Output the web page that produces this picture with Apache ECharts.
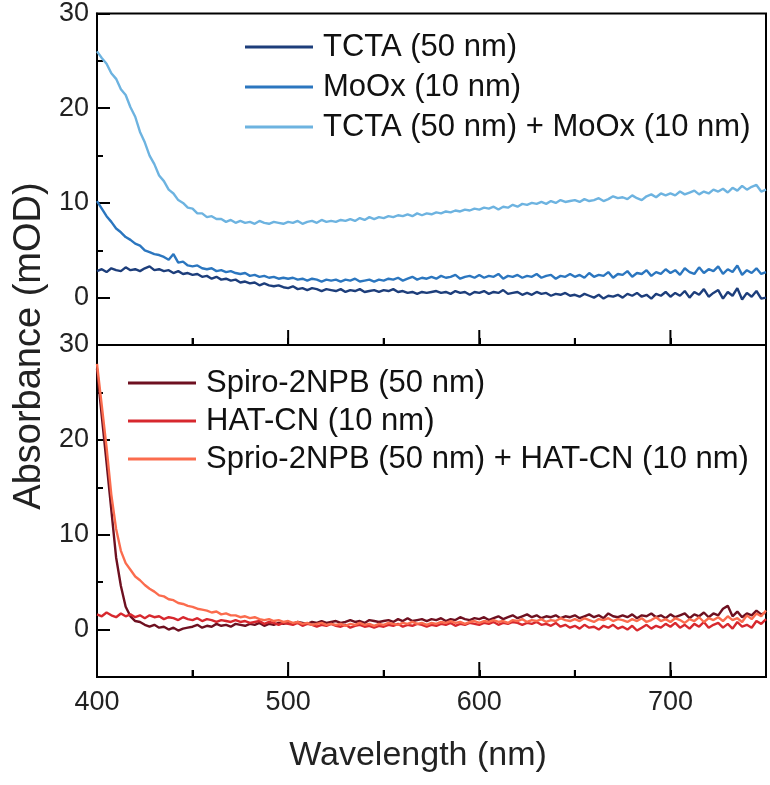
<!DOCTYPE html>
<html>
<head>
<meta charset="utf-8">
<script src="https://cdn.jsdelivr.net/npm/echarts@6/dist/echarts.min.js"></script>
<style>
html,body{margin:0;padding:0;background:#fff;}
#chart{width:770px;height:785px;}
</style>
</head>
<body>
<div id="chart"></div>
<script>
const wavelength = [
400,402.5,405,407.5,410,412.5,415,417.5,420,422.5,
425,427.5,430,432.5,435,437.5,440,442.5,445,447.5,
450,452.5,455,457.5,460,462.5,465,467.5,470,472.5,
475,477.5,480,482.5,485,487.5,490,492.5,495,497.5,
500,502.5,505,507.5,510,512.5,515,517.5,520,522.5,
525,527.5,530,532.5,535,537.5,540,542.5,545,547.5,
550,552.5,555,557.5,560,562.5,565,567.5,570,572.5,
575,577.5,580,582.5,585,587.5,590,592.5,595,597.5,
600,602.5,605,607.5,610,612.5,615,617.5,620,622.5,
625,627.5,630,632.5,635,637.5,640,642.5,645,647.5,
650,652.5,655,657.5,660,662.5,665,667.5,670,672.5,
675,677.5,680,682.5,685,687.5,690,692.5,695,697.5,
700,702.5,705,707.5,710,712.5,715,717.5,720,722.5,
725,727.5,730,732.5,735,737.5,740,742.5,745,747.5,
750];

const tcta = [
2.8,3.0,2.7,3.1,2.9,2.8,3.2,2.9,3.0,2.8,
3.1,3.3,2.9,3.0,2.8,2.9,2.6,2.8,2.5,2.6,
2.4,2.5,2.2,2.3,2.0,2.2,1.9,2.0,1.8,1.9,
1.6,1.7,1.5,1.6,1.3,1.5,1.3,1.2,1.3,1.1,
1.0,1.2,0.9,1.0,0.8,1.0,0.9,0.7,0.9,0.8,
0.7,0.9,0.6,0.8,0.7,0.9,0.6,0.7,0.8,0.6,
0.8,0.7,0.9,0.6,0.7,0.5,0.6,0.4,0.6,0.5,
0.6,0.7,0.5,0.6,0.4,0.7,0.5,0.6,0.3,0.6,
0.5,0.7,0.4,0.6,0.5,0.8,0.4,0.5,0.6,0.3,
0.5,0.3,0.6,0.4,0.5,0.2,0.4,0.3,0.5,0.2,
0.3,0.1,0.4,0.2,0.0,0.3,-0.1,0.2,0.1,0.3,
0.0,0.4,0.2,0.5,0.1,0.3,-0.1,0.4,0.2,0.6,
0.1,0.5,0.2,0.7,0.0,0.6,0.3,0.9,0.1,0.5,
0.8,-0.1,0.6,0.2,1.0,-0.2,0.5,0.1,0.7,-0.1,
0.0];

const moox = [
10.2,9.4,8.6,8.0,7.3,6.9,6.4,6.1,5.7,5.5,
5.0,4.8,4.6,4.5,4.3,4.0,4.6,3.7,3.8,3.4,
3.3,3.4,3.1,3.0,3.1,2.8,2.9,2.7,2.8,2.6,
2.5,2.6,2.3,2.4,2.2,2.3,2.1,2.2,2.0,2.1,
2.0,2.1,1.9,2.0,1.8,2.0,1.9,1.7,1.9,1.8,
1.9,1.7,1.9,1.8,2.0,1.7,1.8,1.9,1.7,1.9,
1.8,2.0,1.9,2.1,1.8,2.0,2.2,1.9,2.1,2.0,
2.2,2.0,2.3,2.1,2.2,2.4,2.0,2.2,2.3,2.1,
2.4,2.1,2.3,2.2,2.5,2.0,2.3,2.2,2.4,2.1,
2.3,2.2,2.5,2.1,2.3,2.4,2.0,2.3,2.2,2.5,
2.2,2.4,2.1,2.6,2.2,2.4,2.3,2.7,2.1,2.5,
2.4,2.8,2.2,2.6,2.5,2.9,2.3,2.7,2.5,3.0,
2.6,2.9,2.4,3.1,2.7,2.5,3.2,2.6,3.0,2.8,
3.3,2.5,3.0,2.7,3.4,2.4,2.9,2.6,3.1,2.5,
2.7];

const tctaMoox = [
26.0,25.3,24.7,23.7,23.1,22.0,21.4,20.1,19.1,17.5,
16.4,15.0,14.1,12.9,12.3,11.4,11.0,10.3,10.0,9.5,
9.4,8.9,8.9,8.5,8.6,8.3,8.3,8.0,8.2,7.9,
8.1,7.9,8.0,7.8,8.1,7.9,7.8,8.0,7.9,7.8,
8.0,7.9,8.1,7.8,8.0,8.1,7.9,8.2,8.0,8.1,
8.0,8.2,8.1,8.3,8.1,8.4,8.2,8.5,8.3,8.5,
8.4,8.6,8.5,8.7,8.6,8.8,8.6,8.9,8.7,8.9,
8.8,9.0,8.9,9.1,9.0,9.2,9.1,9.3,9.2,9.4,
9.3,9.5,9.4,9.6,9.3,9.6,9.5,9.8,9.6,9.9,
9.8,10.0,9.9,10.1,9.9,10.2,10.0,10.3,10.1,10.2,
10.3,10.1,10.4,10.2,10.3,10.5,10.2,10.4,10.7,10.5,
10.6,10.4,10.8,10.5,10.3,10.7,10.9,10.6,11.0,10.8,
11.0,10.8,11.2,10.9,11.1,11.3,10.9,11.2,11.0,11.4,
11.2,11.5,11.1,11.6,11.3,11.8,11.4,11.7,11.9,11.2,
11.4];

const spiro = [
27.5,22.5,17.6,12.6,7.6,4.6,2.4,1.4,0.9,0.8,
0.5,0.3,0.5,0.2,0.3,0.0,0.2,-0.1,0.1,0.2,
0.3,0.5,0.2,0.4,0.3,0.6,0.4,0.5,0.3,0.6,
0.5,0.4,0.6,0.5,0.7,0.4,0.6,0.5,0.7,0.6,
0.7,0.6,0.8,0.7,0.6,0.8,0.7,0.9,0.7,0.8,
0.9,0.7,0.8,1.0,0.8,0.9,0.7,1.0,0.9,0.8,
0.9,1.0,0.8,1.1,0.9,1.2,0.9,1.0,1.1,0.9,
1.1,1.0,1.2,0.9,1.1,1.0,1.3,1.1,1.0,1.2,
1.1,1.3,1.0,1.2,1.4,1.1,1.3,1.5,1.2,1.4,
1.6,1.3,1.5,1.2,1.4,1.3,1.5,1.2,1.4,1.3,
1.5,1.2,1.4,1.6,1.3,1.5,1.2,1.7,1.4,1.3,
1.5,1.3,1.6,1.2,1.5,1.4,1.7,1.3,1.5,1.2,
1.6,1.3,1.5,1.7,1.2,1.6,1.4,1.8,1.3,1.7,
1.5,2.2,2.5,1.4,1.9,1.3,1.7,1.5,2.0,1.6,
1.8];

const hatcn = [
1.6,1.4,1.8,1.5,1.3,1.7,1.4,1.6,1.3,1.5,
1.2,1.5,1.3,1.4,1.1,1.3,1.2,1.0,1.3,1.1,
1.0,1.2,0.9,1.1,1.0,0.8,1.0,0.9,0.8,1.0,
0.8,0.9,0.7,0.8,0.9,0.6,0.8,0.7,0.5,0.7,
0.6,0.5,0.7,0.4,0.6,0.5,0.3,0.5,0.4,0.6,
0.4,0.3,0.5,0.2,0.4,0.5,0.3,0.4,0.2,0.4,
0.3,0.5,0.4,0.6,0.3,0.5,0.4,0.6,0.5,0.3,
0.5,0.4,0.6,0.5,0.7,0.4,0.6,0.5,0.7,0.6,
0.5,0.7,0.6,0.8,0.5,0.7,0.6,0.8,0.7,0.5,
0.7,0.6,0.8,0.5,0.6,0.4,0.7,0.3,0.5,0.2,
0.4,0.1,0.5,0.2,0.3,0.0,0.4,0.2,0.5,0.1,
0.3,0.0,0.4,-0.1,0.2,0.5,0.1,0.4,0.2,0.6,
0.3,0.7,0.2,0.5,0.1,0.6,0.3,0.8,0.2,0.5,
0.7,0.2,0.6,0.1,0.8,0.3,0.5,0.2,0.9,0.6,
1.1];

const spiroHat = [
28.0,23.6,19.2,14.2,10.6,8.3,7.0,6.3,5.6,5.2,
4.7,4.3,4.0,3.6,3.5,3.2,3.1,2.8,2.7,2.5,
2.4,2.2,2.1,2.0,1.8,1.9,1.6,1.7,1.5,1.5,
1.3,1.4,1.2,1.3,1.1,1.0,1.1,0.9,1.0,0.8,
0.9,0.7,0.8,0.6,0.7,0.5,0.6,0.7,0.5,0.6,
0.5,0.6,0.4,0.6,0.5,0.7,0.5,0.6,0.4,0.6,
0.5,0.7,0.6,0.5,0.7,0.6,0.8,0.6,0.7,0.5,
0.7,0.6,0.8,0.7,0.9,0.7,0.8,0.6,0.8,0.9,
0.7,0.9,0.8,1.0,0.8,0.9,0.7,1.0,0.9,1.1,
0.8,1.0,0.9,1.1,0.8,1.0,0.9,1.2,1.0,0.9,
1.1,0.9,1.2,1.0,0.8,1.1,1.0,1.2,0.9,1.1,
1.0,0.8,1.1,0.9,1.2,0.8,1.0,1.3,0.9,1.1,
0.8,1.2,1.0,0.7,1.1,0.9,1.3,0.8,1.2,1.0,
1.3,0.9,1.4,1.0,1.2,0.8,1.5,1.1,1.7,1.4,
2.0];

const topNames = ['TCTA (50 nm)', 'MoOx (10 nm)', 'TCTA (50 nm) + MoOx (10 nm)'];
const bottomNames = ['Spiro-2NPB (50 nm)', 'HAT-CN (10 nm)', 'Sprio-2NPB (50 nm) + HAT-CN (10 nm)'];
const xMajorTicks = [400, 500, 600, 700];
const xMinorTicks = [450, 550, 650];
const yMajorTicks = [0, 10, 20, 30];
const xTitle = 'Wavelength (nm)';
const yTitle = 'Absorbance (mOD)';

const FONT = '"Liberation Sans", Arial, sans-serif';
const pair = (arr) => wavelength.map((w, i) => [w, arr[i]]);

function labelAxisX(gridIndex, withLabels) {
  return {
    type: 'value', gridIndex: gridIndex, min: 400, max: 750, interval: 50, position: 'bottom',
    splitLine: {show: false},
    axisLine: {show: true, onZero: false, lineStyle: {color: '#000', width: 2}},
    axisTick: {show: true, inside: true, length: 7, lineStyle: {color: '#000', width: 2}},
    axisLabel: withLabels ? {
      show: true, fontSize: 27, color: '#222', fontFamily: FONT, margin: 12, showMaxLabel: false,
      formatter: function (v) { return xMajorTicks.indexOf(v) >= 0 ? String(v) : ''; }
    } : {show: false}
  };
}
function labelAxisY(gridIndex) {
  return {
    type: 'value', gridIndex: gridIndex, min: -5, max: 30, interval: 5, position: 'left',
    splitLine: {show: false},
    axisLine: {show: true, onZero: false, lineStyle: {color: '#000', width: 2}},
    axisTick: {show: true, inside: true, length: 6, lineStyle: {color: '#000', width: 2}},
    axisLabel: {
      show: true, fontSize: 27, color: '#222', fontFamily: FONT, margin: 8,
      formatter: function (v) { return yMajorTicks.indexOf(v) >= 0 ? String(v) : ''; }
    }
  };
}
function majorTickAxisY(gridIndex) {
  return {
    type: 'value', gridIndex: gridIndex, min: -5, max: 30, position: 'left',
    splitLine: {show: false},
    axisLine: {show: false, onZero: false},
    axisTick: {show: true, inside: true, length: 13, customValues: yMajorTicks, lineStyle: {color: '#000', width: 2}},
    axisLabel: {show: false}
  };
}

// x-axis tick marks drawn at the tick values through the axis scale
function xTickSeries(xi, yi) {
  return {
    type: 'custom', xAxisIndex: xi, yAxisIndex: yi, silent: true, clip: false, z: 5,
    data: xMajorTicks.concat(xMinorTicks).map(function (v) { return [v, -5]; }),
    renderItem: function (params, api) {
      const v = api.value(0);
      const p = api.coord([v, api.value(1)]);
      const len = xMajorTicks.indexOf(v) >= 0 ? 15 : 7;
      return {
        type: 'line',
        shape: {x1: p[0], y1: p[1], x2: p[0], y2: p[1] - len},
        style: {stroke: '#000', lineWidth: 2}
      };
    }
  };
}

const topColors = ['#1d3e7b', '#2b76bf', '#6db3e0'];
const bottomColors = ['#6e1020', '#d7282e', '#fb6c4e'];

function line(name, data, color, xi, yi) {
  return {
    name: name, type: 'line', xAxisIndex: xi, yAxisIndex: yi, data: pair(data),
    symbol: 'none', lineStyle: {color: color, width: 2.4}, itemStyle: {color: color}
  };
}

const legendText = {fontSize: 31, color: '#111', fontFamily: FONT, lineHeight: 32, padding: [0, 0, 0, 5]};

const option = {
  animation: false,
  grid: [
    {left: 97, right: 4, top: 12, height: 333, show: true, borderColor: '#000', borderWidth: 2},
    {left: 97, right: 4, top: 345, height: 332, show: true, borderColor: '#000', borderWidth: 2}
  ],
  xAxis: [labelAxisX(0, false), labelAxisX(1, true)],
  yAxis: [labelAxisY(0), majorTickAxisY(0), labelAxisY(1), majorTickAxisY(1)],
  legend: [
    {data: topNames, orient: 'vertical', left: 245, top: 31, padding: 0, itemWidth: 68, itemHeight: 3, itemGap: 8, icon: 'rect', textStyle: legendText, selectedMode: false},
    {data: bottomNames, orient: 'vertical', left: 128, top: 367, padding: 0, itemWidth: 68, itemHeight: 3, itemGap: 6, icon: 'rect', textStyle: legendText, selectedMode: false}
  ],
  graphic: [
    {type: 'text', x: 30, y: 346, rotation: Math.PI / 2,
     style: {text: yTitle, fontSize: 38, fill: '#222', fontFamily: FONT, align: 'center', verticalAlign: 'middle'}},
    {type: 'text', x: 418, y: 756,
     style: {text: xTitle, fontSize: 34, fill: '#222', fontFamily: FONT, align: 'center', verticalAlign: 'middle'}}
  ],
  series: [
    line(topNames[0], tcta, topColors[0], 0, 0),
    line(topNames[1], moox, topColors[1], 0, 0),
    line(topNames[2], tctaMoox, topColors[2], 0, 0),
    line(bottomNames[0], spiro, bottomColors[0], 1, 2),
    line(bottomNames[1], hatcn, bottomColors[1], 1, 2),
    line(bottomNames[2], spiroHat, bottomColors[2], 1, 2),
    xTickSeries(0, 0),
    xTickSeries(1, 2)
  ]
};
const chart = echarts.init(document.getElementById('chart'));
chart.setOption(option);
</script>
</body>
</html>
